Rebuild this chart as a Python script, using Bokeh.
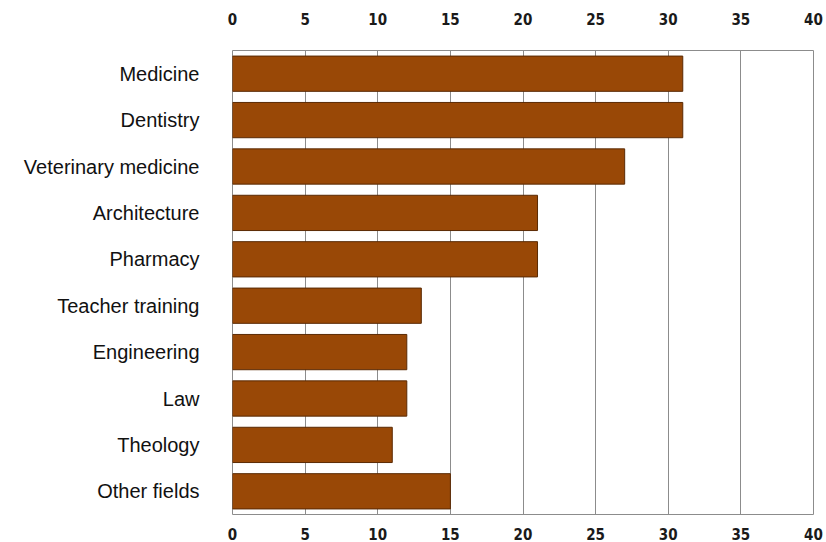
from bokeh.plotting import figure
from bokeh.models import FactorRange, LinearAxis, SingleIntervalTicker, ColumnDataSource
from bokeh.embed import file_html
from bokeh.resources import INLINE

# Fields of study and their values
fields = ["Medicine", "Dentistry", "Veterinary medicine", "Architecture", "Pharmacy",
          "Teacher training", "Engineering", "Law", "Theology", "Other fields"]
values = [31, 31, 27, 21, 21, 13, 12, 12, 11, 15]

source = ColumnDataSource(data=dict(field=fields, value=values))

p = figure(
    width=826, height=542,
    y_range=FactorRange(*reversed(fields), range_padding=0),
    x_range=(0, 40),
    output_backend="svg", toolbar_location=None,
    x_axis_location="below",
    min_border_left=232, min_border_right=13, min_border_top=50, min_border_bottom=28,
)

p.hbar(y="field", right="value", left=0, height=0.76, source=source,
       fill_color="#994806", line_color="#5a2a04", line_width=1)

tick_font = "'Liberation Sans Narrow', 'Arial Narrow', 'DejaVu Sans Condensed', sans-serif"

top_axis = LinearAxis()
p.add_layout(top_axis, "above")
bottom_axis = p.below[0]

for ax in (bottom_axis, top_axis):
    ax.ticker = SingleIntervalTicker(interval=5)
    ax.axis_line_color = None
    ax.major_tick_line_color = None
    ax.minor_tick_line_color = None
    ax.major_label_text_font = tick_font
    ax.major_label_text_font_style = "bold"
    ax.major_label_text_font_size = "15px"
    ax.major_label_text_color = "#1a1a1a"
top_axis.major_label_standoff = 20
bottom_axis.major_label_standoff = 7

yax = p.left[0]
yax.axis_line_color = None
yax.major_tick_line_color = None
yax.minor_tick_line_color = None
yax.major_label_text_font = "Liberation Sans"
yax.major_label_text_font_size = "20px"
yax.major_label_text_color = "#111111"
yax.major_label_standoff = 27

p.xgrid.ticker = SingleIntervalTicker(interval=5)
p.xgrid.grid_line_color = "#8c8c8c"
p.xgrid.grid_line_width = 1
p.ygrid.grid_line_color = None

p.outline_line_color = "#8c8c8c"
p.outline_line_width = 1
p.background_fill_color = "white"
p.border_fill_color = "white"

open("out.html", "w").write(file_html(p, INLINE))
